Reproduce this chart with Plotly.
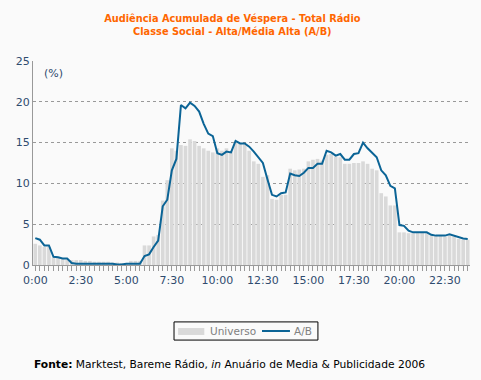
import plotly.graph_objects as go

# 15-minute slots, 0:00 .. 23:45
slots = list(range(96))
tick_pos = [0, 10, 20, 30, 40, 50, 60, 70, 80, 90]
tick_labels = ["0:00", "2:30", "5:00", "7:30", "10:00", "12:30", "15:00", "17:30", "20:00", "22:30"]

universo = [
    2.6, 2.4, 2.2, 2.2, 0.9, 0.9, 0.8, 0.7, 0.6, 0.6,
    0.6, 0.5, 0.5, 0.4, 0.4, 0.4, 0.4, 0.3, 0.3, 0.2,
    0.1, 0.5, 0.5, 0.5, 2.4, 2.4, 3.5, 3.7, 7.9, 10.4,
    14.3, 14.0, 14.7, 14.6, 15.4, 15.2, 14.6, 14.3, 14.0, 13.8,
    14.3, 14.0, 14.3, 13.9, 15.1, 14.9, 14.8, 14.0, 12.7, 12.4,
    10.8, 11.0, 8.1, 8.0, 8.6, 8.6, 11.8, 11.6, 11.7, 11.8,
    12.7, 12.9, 13.0, 12.8, 13.5, 13.6, 13.3, 13.2, 12.4, 12.4,
    12.5, 12.5, 12.7, 12.4, 11.8, 11.6, 8.8, 8.4, 7.3, 7.3,
    4.0, 4.0, 3.9, 3.9, 4.0, 4.0, 3.9, 3.7, 3.6, 3.6,
    3.5, 3.6, 3.5, 3.2, 3.1, 3.1,
]

ab = [
    3.3, 3.1, 2.4, 2.4, 1.0, 0.95, 0.8, 0.8, 0.25, 0.15,
    0.15, 0.15, 0.15, 0.15, 0.15, 0.15, 0.15, 0.15, 0.05, 0.05,
    0.15, 0.15, 0.15, 0.15, 1.1, 1.3, 2.2, 3.0, 7.2, 8.0,
    11.6, 13.0, 19.6, 19.2, 19.9, 19.5, 18.8, 17.3, 16.1, 15.8,
    13.7, 13.5, 13.9, 13.8, 15.2, 14.9, 14.9, 14.5, 13.9, 13.2,
    12.5, 10.5, 8.6, 8.4, 8.8, 8.9, 11.2, 11.0, 10.9, 11.3,
    11.9, 11.9, 12.4, 12.4, 14.0, 13.8, 13.4, 13.6, 12.9, 12.9,
    13.6, 13.7, 15.0, 14.3, 13.8, 13.2, 11.6, 11.0, 9.7, 9.4,
    4.9, 4.8, 4.2, 4.0, 4.0, 4.0, 4.0, 3.7, 3.6, 3.6,
    3.6, 3.75, 3.6, 3.4, 3.25, 3.2,
]

series_names = ["Universo", "A/B"]
BAR_COLOR = "#d9d9d9"
LINE_COLOR = "#0b6496"
AXIS_TXT = "#2f4b6e"
FONT = "DejaVu Sans"

fig = go.Figure()
fig.add_trace(go.Bar(x=slots, y=universo, marker=dict(color=BAR_COLOR, line=dict(width=0)),
                     name=series_names[0], showlegend=False))
fig.add_trace(go.Scatter(x=slots, y=ab, mode="lines", name=series_names[1], showlegend=False,
                         line=dict(color=LINE_COLOR, width=2)))

# legend drawn as a bordered box below the plot (paper coordinates)
legend_shapes = [
    dict(type="rect", xref="paper", yref="paper", x0=0.3227, x1=0.652, y0=-0.368, y1=-0.279,
         line=dict(color="#000000", width=1), fillcolor="#fafafa", layer="above"),
    dict(type="rect", xref="paper", yref="paper", x0=0.332, x1=0.392, y0=-0.343, y1=-0.309,
         line=dict(width=0), fillcolor=BAR_COLOR, layer="above"),
    dict(type="line", xref="paper", yref="paper", x0=0.524, x1=0.588, y0=-0.3235, y1=-0.3235,
         line=dict(color=LINE_COLOR, width=2), layer="above"),
]

fig.update_layout(
    width=481, height=380,
    margin=dict(l=33, r=11, t=61, b=115),
    paper_bgcolor="#fafafa", plot_bgcolor="#fafafa",
    bargap=0.2,
    showlegend=False,
    font=dict(family=FONT, size=11, color=AXIS_TXT),
    title=dict(
        text="Audiência Acumulada de Véspera - Total Rádio<br>Classe Social - Alta/Média Alta (A/B)",
        x=0.483, xanchor="center", xref="container",
        y=0.941, yanchor="top", yref="container",
        font=dict(family=FONT, size=9.8, color="#ff6600", weight="bold"),
    ),
    xaxis=dict(
        range=[-0.5, 95.5], tickmode="array", tickvals=tick_pos, ticktext=tick_labels,
        showgrid=False, zeroline=False, showline=True, linecolor="#999999", linewidth=1,
        ticks="outside", ticklen=5, tickcolor="#999999", automargin=False,
        minor=dict(ticks="outside", tickmode="linear", tick0=0, dtick=1, ticklen=5, tickcolor="#999999"),
        tickfont=dict(family=FONT, size=11, color=AXIS_TXT),
        fixedrange=True,
    ),
    yaxis=dict(
        range=[0, 25], tickmode="linear", tick0=0, dtick=5, automargin=False,
        showgrid=True, gridcolor="#999999", griddash="dot", gridwidth=1,
        zeroline=False, showline=True, linecolor="#999999", linewidth=1,
        ticks="", tickfont=dict(family=FONT, size=11, color=AXIS_TXT),
        fixedrange=True,
    ),
    shapes=legend_shapes,
    annotations=[
        dict(text="(%)", xref="paper", yref="paper", x=0.02, y=0.94, xanchor="left", yanchor="middle",
             showarrow=False, font=dict(family=FONT, size=11, color=AXIS_TXT)),
        dict(text=series_names[0], xref="paper", yref="paper", x=0.4005, y=-0.3235,
             xanchor="left", yanchor="middle", showarrow=False,
             font=dict(family=FONT, size=10.5, color="#808080")),
        dict(text=series_names[1], xref="paper", yref="paper", x=0.592, y=-0.3235,
             xanchor="left", yanchor="middle", showarrow=False,
             font=dict(family=FONT, size=10.5, color="#808080")),
        dict(text="<b>Fonte:</b> Marktest, Bareme Rádio, <i>in</i> Anuário de Media &amp; Publicidade 2006",
             xref="paper", yref="paper", x=-0.002, y=-0.49, xanchor="left", yanchor="middle",
             showarrow=False, font=dict(family=FONT, size=10.7, color="#000000")),
    ],
)

fig.write_html("out.html", config={"displayModeBar": False},
               post_script="document.body.style.margin='0';")
